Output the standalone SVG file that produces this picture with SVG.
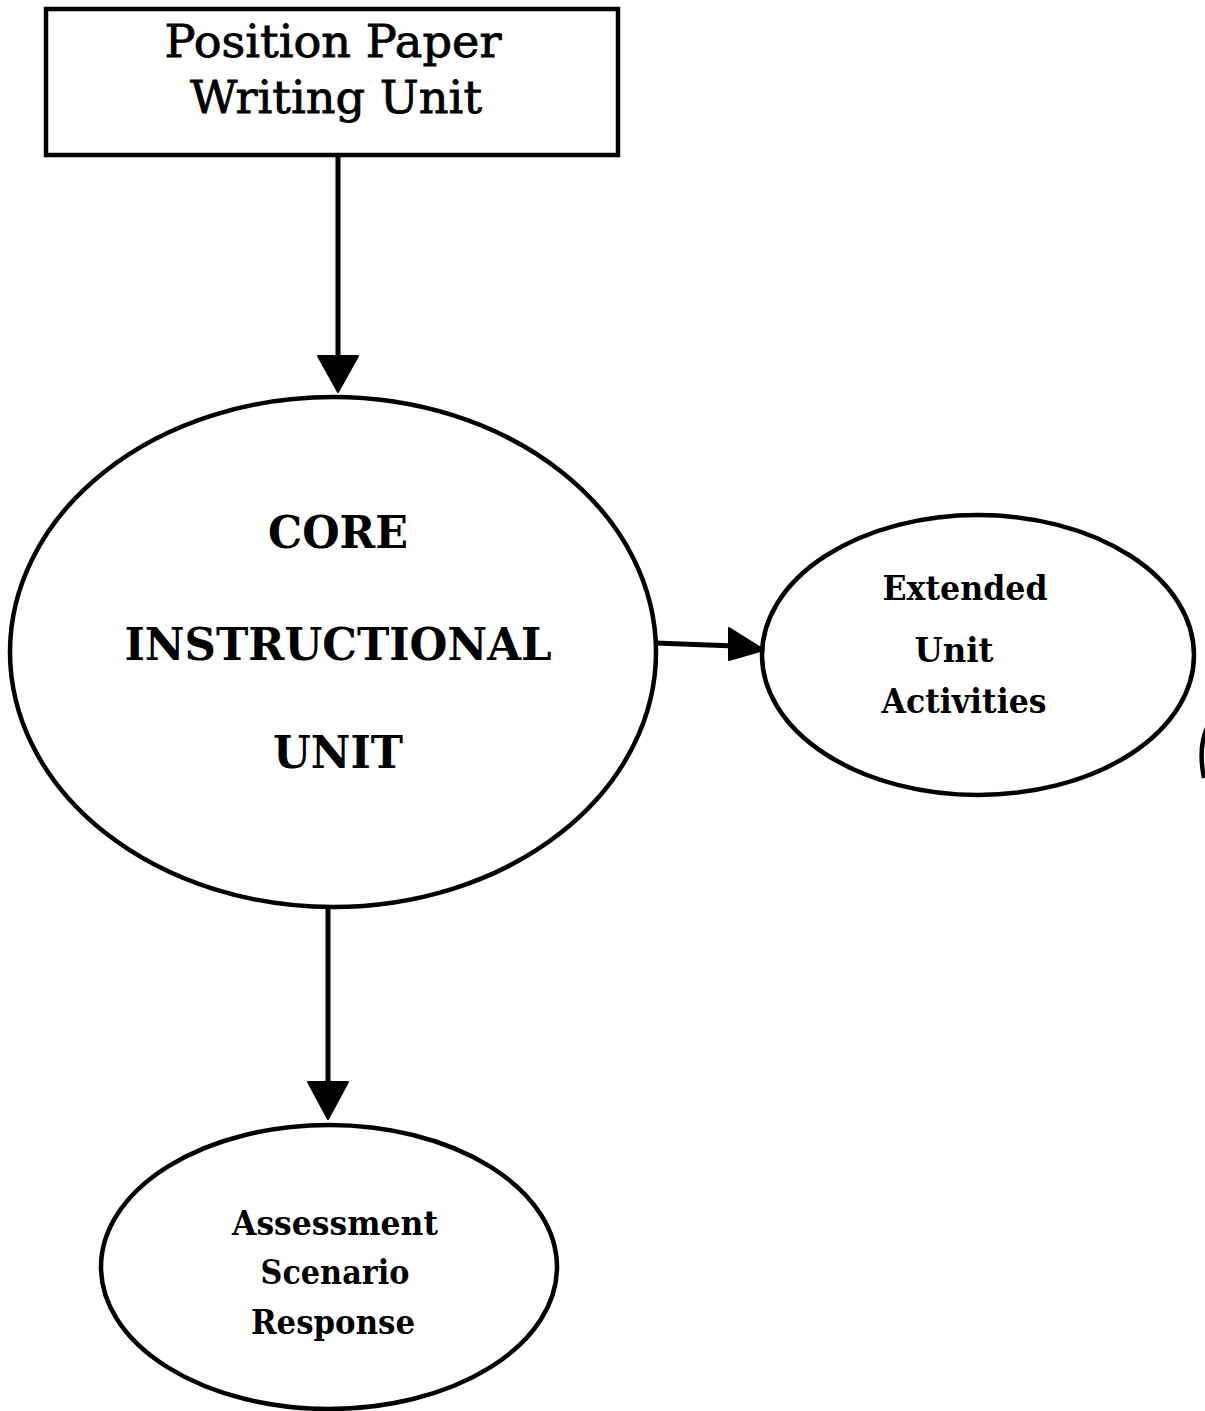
<svg xmlns="http://www.w3.org/2000/svg" width="1205" height="1411" viewBox="0 0 1205 1411">
<style>
.shape{fill:none;stroke:#000;stroke-width:4.5}
.conn{stroke:#000;stroke-width:5;fill:none}
.head{fill:#000;stroke:#000;stroke-width:2;stroke-linejoin:round}
.t{font-family:"DejaVu Serif","Liberation Serif",serif;fill:#000;text-anchor:middle}
.big{font-size:44px;stroke:#000;stroke-width:0.8}
.med{font-size:44px;font-weight:bold}
.sm{font-size:33px;font-weight:bold}
</style>
<rect width="1205" height="1411" fill="#fff"/>
<g id="connectors">
<line class="conn" x1="338" y1="155" x2="338" y2="360"/>
<polygon class="head" points="318,356 358,356 338,392"/>
<line class="conn" x1="655" y1="643" x2="735" y2="646"/>
<polygon class="head" points="729,628 764,650 729,660"/>
<line class="conn" x1="328" y1="907" x2="328" y2="1085"/>
<polygon class="head" points="308,1082 348,1082 328,1119"/>
</g>
<g id="node-position-paper">
<rect class="shape" x="46" y="9" width="572" height="146"/>
<text class="t big" x="333" y="57" textLength="337" lengthAdjust="spacingAndGlyphs">Position Paper</text>
<text class="t big" x="336" y="113" textLength="292" lengthAdjust="spacingAndGlyphs">Writing Unit</text>
</g>
<g id="node-core">
<ellipse class="shape" cx="333" cy="652" rx="323" ry="255"/>
<text class="t med" x="338" y="548" textLength="140" lengthAdjust="spacingAndGlyphs">CORE</text>
<text class="t med" x="338" y="660" textLength="427" lengthAdjust="spacingAndGlyphs">INSTRUCTIONAL</text>
<text class="t med" x="338" y="768" textLength="130" lengthAdjust="spacingAndGlyphs">UNIT</text>
</g>
<g id="node-extended">
<ellipse class="shape" cx="978" cy="655" rx="216" ry="140"/>
<text class="t sm" x="965" y="600" textLength="165" lengthAdjust="spacingAndGlyphs">Extended</text>
<text class="t sm" x="954" y="662" textLength="79" lengthAdjust="spacingAndGlyphs">Unit</text>
<text class="t sm" x="964" y="713" textLength="165" lengthAdjust="spacingAndGlyphs">Activities</text>
</g>
<g id="node-assessment">
<ellipse class="shape" cx="329" cy="1267" rx="228" ry="142"/>
<text class="t sm" x="335" y="1235" textLength="206" lengthAdjust="spacingAndGlyphs">Assessment</text>
<text class="t sm" x="335" y="1284" textLength="149" lengthAdjust="spacingAndGlyphs">Scenario</text>
<text class="t sm" x="333" y="1334" textLength="164" lengthAdjust="spacingAndGlyphs">Response</text>
</g>
<path class="shape" d="M1207,728 Q1198,748 1204,778"/>
</svg>
